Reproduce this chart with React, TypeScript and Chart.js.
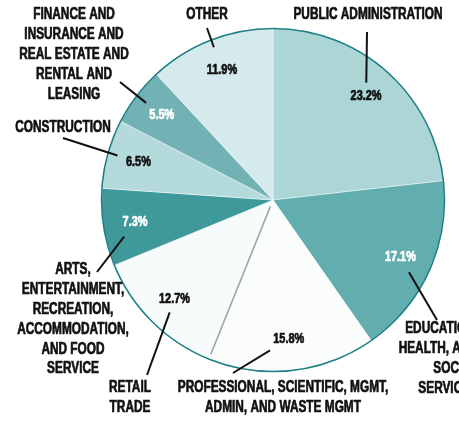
import React, { useEffect, useRef } from "react";
import { Chart, registerables } from "chart.js";

Chart.register(...registerables);

// ---- data ----
const categories = [
  "PUBLIC ADMINISTRATION",
  "EDUCATION, HEALTH, AND SOCIAL SERVICES",
  "PROFESSIONAL, SCIENTIFIC, MGMT, ADMIN, AND WASTE MGMT",
  "RETAIL TRADE",
  "ARTS, ENTERTAINMENT, RECREATION, ACCOMMODATION, AND FOOD SERVICE",
  "CONSTRUCTION",
  "FINANCE AND INSURANCE AND REAL ESTATE AND RENTAL AND LEASING",
  "OTHER",
];
const shares = [23.2, 17.1, 15.8, 12.7, 7.3, 6.5, 5.5, 11.9];
const labelLines = [
  ["PUBLIC ADMINISTRATION"],
  ["EDUCATION,", "HEALTH, AND", "SOCIAL", "SERVICES"],
  ["PROFESSIONAL, SCIENTIFIC, MGMT,", "ADMIN, AND WASTE MGMT"],
  ["RETAIL", "TRADE"],
  ["ARTS,", "ENTERTAINMENT,", "RECREATION,", "ACCOMMODATION,", "AND FOOD", "SERVICE"],
  ["CONSTRUCTION"],
  ["FINANCE AND", "INSURANCE AND", "REAL ESTATE AND", "RENTAL AND", "LEASING"],
  ["OTHER"],
];

// ---- styles / layout ----
const sliceColors = ["#acd6d6", "#62adae", "#fbfdfd", "#f8fbfb", "#3f9899", "#b5dadb", "#72b2b4", "#d5eaec"];
const pctColors = ["#111", "#fff", "#111", "#111", "#fff", "#111", "#fff", "#111"];
const labelAnchors: [number, number][] = [
  [368, 15], [478, 329], [283, 388], [130, 388], [73, 270], [63, 128], [74, 15], [207, 15],
];
const labelAlign: CanvasTextAlign[] = ["center", "right", "center", "center", "center", "center", "center", "center"];
const leaderEnds: [number, number][] = [
  [367, 32], [437, 320], [233, 373], [147, 375], [97, 272], [63, 138], [120, 82], [207, 28],
];
const leaderGaps = [13, 17, 22, 14, 18, 22, 20, 24];
const LINE_H = 19.8;
const SX = 0.74;

function drawText(ctx: CanvasRenderingContext2D, text: string, x: number, y: number, align: CanvasTextAlign, font: string, color: string, sx: number) {
  ctx.save();
  ctx.translate(x, y);
  ctx.scale(sx, 1);
  ctx.font = font;
  ctx.fillStyle = color;
  ctx.strokeStyle = color;
  ctx.lineWidth = 0.7;
  ctx.lineJoin = "round";
  ctx.textAlign = align;
  ctx.textBaseline = "middle";
  ctx.fillText(text, 0, 0);
  ctx.strokeText(text, 0, 0);
  ctx.restore();
}

const labelPlugin = {
  id: "pieLabels",
  afterDatasetsDraw(chart: any) {
    const ctx: CanvasRenderingContext2D = chart.ctx;
    const meta = chart.getDatasetMeta(0);
    const arcs = meta.data;
    if (!arcs.length) return;
    const first = arcs[0].getProps(["x", "y", "outerRadius"], true);
    const cx = first.x, cy = first.y, R = first.outerRadius;

    // separator line at start of retail slice
    const retail = arcs[3].getProps(["startAngle"], true);
    ctx.save();
    ctx.strokeStyle = "#9aa7a8";
    ctx.lineWidth = 1.6;
    ctx.beginPath();
    ctx.moveTo(cx + Math.cos(retail.startAngle) * R * 0.04, cy + Math.sin(retail.startAngle) * R * 0.04);
    ctx.lineTo(cx + Math.cos(retail.startAngle) * R * 0.97, cy + Math.sin(retail.startAngle) * R * 0.97);
    ctx.stroke();

    // outer ring
    ctx.strokeStyle = "#1d7f85";
    ctx.lineWidth = 1.5;
    ctx.beginPath();
    ctx.arc(cx, cy, R, 0, Math.PI * 2);
    ctx.stroke();
    ctx.restore();

    arcs.forEach((arc: any, i: number) => {
      const p = arc.getProps(["startAngle", "endAngle"], true);
      const mid = (p.startAngle + p.endAngle) / 2;
      const px = cx + Math.cos(mid) * R * 0.815;
      const py = cy + Math.sin(mid) * R * 0.815;
      drawText(ctx, shares[i].toFixed(1) + "%", px, py, "center", "bold 14px 'Liberation Sans', Arial, sans-serif", pctColors[i], 0.78);

      // leader line
      const [ex, ey] = leaderEnds[i];
      const dx = ex - px, dy = ey - py;
      const len = Math.hypot(dx, dy);
      const ix = px + (dx / len) * leaderGaps[i];
      const iy = py + (dy / len) * leaderGaps[i];
      ctx.save();
      ctx.strokeStyle = "#111";
      ctx.lineWidth = 2;
      ctx.beginPath();
      ctx.moveTo(ix, iy);
      ctx.lineTo(ex, ey);
      ctx.stroke();
      ctx.restore();

      // category label
      const [lx, ly] = labelAnchors[i];
      labelLines[i].forEach((line, k) => {
        drawText(ctx, line, lx, ly + k * LINE_H, labelAlign[i], "bold 16px 'Liberation Sans', Arial, sans-serif", "#111", SX);
      });
    });
  },
};

export default function App() {
  const ref = useRef<HTMLCanvasElement | null>(null);
  useEffect(() => {
    document.body.style.margin = "0";
    document.body.style.background = "#ffffff";
    if (!ref.current) return;
    const chart = new Chart(ref.current, {
      type: "pie",
      data: {
        labels: categories,
        datasets: [
          {
            data: shares,
            backgroundColor: sliceColors,
            borderColor: "rgba(255,255,255,0.45)",
            borderWidth: 1,
          },
        ],
      },
      options: {
        responsive: false,
        animation: false,
        layout: { padding: { left: 101, top: 28, right: 14, bottom: 49 } },
        plugins: {
          legend: { display: false },
          tooltip: { enabled: false },
        },
      },
      plugins: [labelPlugin],
    });
    return () => chart.destroy();
  }, []);
  return <canvas ref={ref} width={459} height={421} style={{ display: "block" }} />;
}
